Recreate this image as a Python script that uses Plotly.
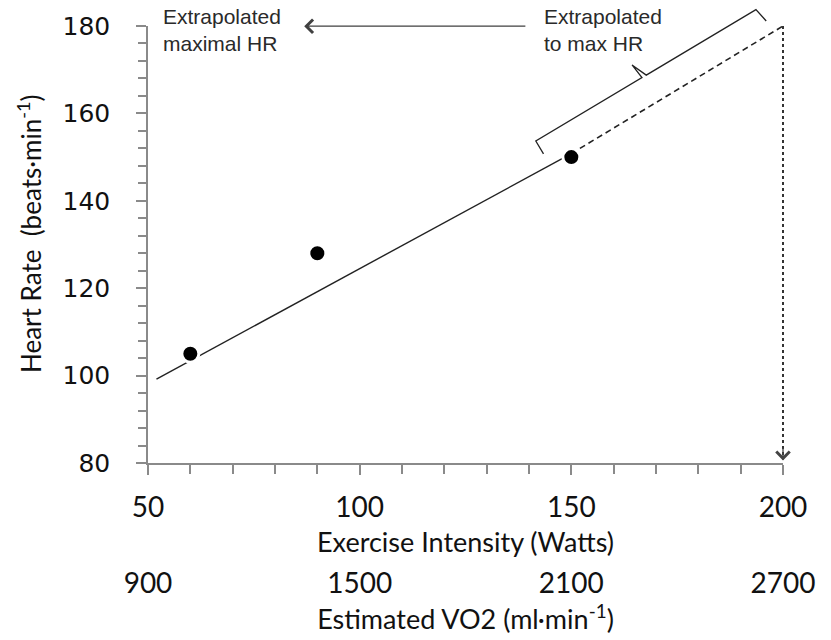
import numpy as np
import plotly.graph_objects as go

# ---------------- data ----------------
watts = [60, 90, 150]                 # measured exercise intensities
heart_rate = [105, 128, 150]          # measured heart rates
fit_x = [52, 150, 200]                # drawn HR line: start, last stage, extrapolated end
fit_y = [99.2, 150.8, 180]            # beats/min at those intensities
max_hr = 180                          # extrapolated maximal HR
watts_ticks = [50, 100, 150, 200]
vo2_ticks = [900, 1500, 2100, 2700]   # estimated VO2 at the same intensities
hr_ticks = [80, 100, 120, 140, 160, 180]

# ---------------- geometry / styles ----------------
W, H = 831, 640
ML, MR, MT, MB = 148, 48, 26, 80
PW = W - ML - MR
PH_TOT = H - MT - MB
PLOT_BOTTOM = 463
ydom0 = (MT + PH_TOT - PLOT_BOTTOM) / PH_TOT
PH = PLOT_BOTTOM - MT
XR = [50, 200]
YR = [80, 180]

AX = "#8a8a8a"
INK = "#222222"
TXT = "#111111"
LATO = "Lato, Calibri, sans-serif"

def fit(x):
    return float(np.interp(x, fit_x, fit_y))

def to_px(x, y):
    return (ML + (x - XR[0]) / (XR[1] - XR[0]) * PW,
            MT + (YR[1] - y) / (YR[1] - YR[0]) * PH)

def to_paper(px, py):
    return (px - ML) / PW, (MT + PH_TOT - py) / PH_TOT

fig = go.Figure()

# fitted line: solid over measured range, dashed when extrapolated
fig.add_trace(go.Scatter(x=fit_x[:2], y=fit_y[:2],
                         mode="lines", line=dict(color=INK, width=1.4),
                         hoverinfo="skip", showlegend=False))
fig.add_trace(go.Scatter(x=fit_x[1:], y=fit_y[1:],
                         mode="lines", line=dict(color=INK, width=1.6, dash="6px,4px"),
                         hoverinfo="skip", showlegend=False))
# measured points
fig.add_trace(go.Scatter(x=watts, y=heart_rate, mode="markers",
                         marker=dict(color="black", size=17, line=dict(color="white", width=3)),
                         showlegend=False))
# invisible trace to hold the VO2 axis
fig.add_trace(go.Scatter(x=vo2_ticks, y=[None] * len(vo2_ticks), xaxis="x2", yaxis="y",
                         mode="markers", hoverinfo="skip", showlegend=False))

# vertical dotted line from max HR down to x axis
xpaper_max = (fit_x[-1] - XR[0]) / (XR[1] - XR[0])
fig.add_shape(type="line", xref="paper", yref="y", x0=xpaper_max, x1=xpaper_max,
              y0=max_hr, y1=YR[0] + 0.8, line=dict(color="#333333", width=2, dash="dot"))

# brace over the extrapolated segment
brace_x = [145, 197]
p0 = np.array(to_px(brace_x[0], fit(brace_x[0])))
p1 = np.array(to_px(brace_x[1], fit(brace_x[1])))
L = np.linalg.norm(p1 - p0)
u = (p1 - p0) / L
n = np.array([u[1], -u[0]])
h = 28
sm = 0.49 * L
pts = [p0 + (h - 15) * n, p0 + h * n, p0 + (sm - 2) * u + h * n,
       p0 + (sm - 4) * u + (h + 16) * n, p0 + (sm + 3) * u + h * n,
       p1 + h * n, p1 + (h - 15) * n + 3 * u]
path = ""
for i, p in enumerate(pts):
    qx, qy = to_paper(p[0], p[1])
    path += ("M" if i == 0 else " L") + f"{qx:.5f},{qy:.5f}"
fig.add_shape(type="path", xref="paper", yref="paper", path=path,
              line=dict(color=INK, width=1.3))

ann_font = dict(family="Liberation Sans, Arial, sans-serif", size=21, color="#2a2a2a")
ytitle_x, ytitle_y = to_paper(30, 234)
annotations = [
    dict(x=53.0, y=179.0, xref="x", yref="y", xanchor="left", yanchor="middle", align="left",
         text="Extrapolated<br>maximal HR", showarrow=False, font=ann_font),
    dict(x=143.0, y=179.0, xref="x", yref="y", xanchor="left", yanchor="middle", align="left",
         text="Extrapolated<br>to max HR", showarrow=False, font=ann_font),
    # horizontal arrow pointing to the maximal HR label
    dict(x=86.9, y=179.95, xref="x", yref="y", ax=139.5, ay=179.95,
         axref="x", ayref="y", text="", showarrow=True, arrowhead=4, arrowsize=2,
         arrowwidth=1.3, arrowcolor="#404040"),
    # arrow head at bottom of dotted line
    dict(x=fit_x[-1], y=YR[0] + 0.6, xref="x", yref="y", ax=0, ay=-14, text="",
         showarrow=True, arrowhead=4, arrowsize=2, arrowwidth=1.3, arrowcolor="#444444"),
    # y-axis title
    dict(x=ytitle_x, y=ytitle_y, xref="paper", yref="paper", xanchor="center", yanchor="middle",
         textangle=-90, showarrow=False, text="Heart Rate  (beats·min<sup>-1</sup>)",
         font=dict(family=LATO, size=26, color=TXT)),
]

fig.update_layout(
    width=W, height=H,
    margin=dict(l=ML, r=MR, t=MT, b=MB, autoexpand=False),
    paper_bgcolor="white", plot_bgcolor="white",
    showlegend=False,
    annotations=annotations,
    xaxis=dict(range=XR, tickvals=watts_ticks, ticks="outside", ticklen=10, tickwidth=1.5,
               tickcolor=AX, showline=True, linecolor=AX, linewidth=1.5,
               showgrid=False, zeroline=False, anchor="y",
               minor=dict(dtick=10, tick0=50, ticks="outside", ticklen=9, tickwidth=1.5, tickcolor=AX),
               tickfont=dict(family=LATO, size=28, color=TXT), ticklabelstandoff=9,
               title=dict(text="Exercise Intensity (Watts)", font=dict(family=LATO, size=27, color=TXT),
                          standoff=11)),
    xaxis2=dict(range=[vo2_ticks[0], vo2_ticks[-1]], tickvals=vo2_ticks, overlaying="x",
                anchor="free", position=0, side="bottom", showline=False, ticks="",
                showgrid=False, zeroline=False, ticklabelstandoff=4,
                tickfont=dict(family=LATO, size=28, color=TXT),
                title=dict(text="Estimated VO2 (ml·min<sup>-1</sup>)",
                           font=dict(family=LATO, size=27, color=TXT), standoff=4)),
    yaxis=dict(range=YR, tickvals=hr_ticks, domain=[ydom0, 1], ticks="outside", ticklen=10,
               tickwidth=1.5, tickcolor=AX, showline=True, linecolor=AX, linewidth=1.5,
               showgrid=False, zeroline=False,
               minor=dict(dtick=4, tick0=80, ticks="outside", ticklen=8, tickwidth=1.5, tickcolor=AX),
               tickfont=dict(family="DejaVu Sans", size=25, color=TXT), ticklabelstandoff=21),
)

fig.write_html("out.html")
